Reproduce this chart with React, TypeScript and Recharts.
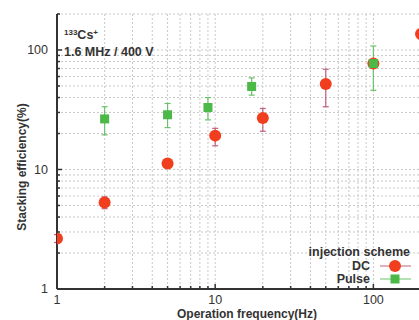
import {
  CartesianGrid,
  ErrorBar,
  Label,
  Legend,
  Scatter,
  ScatterChart,
  XAxis,
  YAxis,
} from "recharts";

// Stacking efficiency vs operation frequency, log-log scatter with error bars.

const FONT = '"Liberation Sans", Arial, sans-serif';
const INK = "#333";

const freqTicks = [1, 2, 3, 4, 5, 6, 7, 8, 9, 10, 20, 30, 40, 50, 60, 70, 80, 90, 100, 200];
const effTicks = [1, 2, 3, 4, 5, 6, 7, 8, 9, 10, 20, 30, 40, 50, 60, 70, 80, 90, 100, 200];
const majorTicks = [1, 10, 100];

const dcFreq = [1, 2, 5, 10, 20, 50, 100, 200];
const dcEff = [2.65, 5.3, 11.2, 19.2, 27, 52, 77, 136];
const dcErrLow = [0.2, 0.6, 1.0, 3.4, 6.1, 18.5, 6, 12];
const dcErrHigh = [0.2, 0.6, 1.0, 2.9, 5.4, 17, 6, 12];

const pulseFreq = [2, 5, 9, 17, 100];
const pulseEff = [26.5, 28.7, 33, 49.5, 77];
const pulseErrLow = [7, 6.3, 7, 7.6, 31];
const pulseErrHigh = [7, 7, 7, 8.9, 31];

const dcData = dcFreq.map((f, i) => ({
  freq: f,
  eff: dcEff[i],
  err: [dcErrLow[i], dcErrHigh[i]],
}));
const pulseData = pulseFreq.map((f, i) => ({
  freq: f,
  eff: pulseEff[i],
  err: [pulseErrLow[i], pulseErrHigh[i]],
}));

const RED = "#f03e1e";
const GREEN = "#4cb848";

const DcDot = (p: any) => <circle cx={p.cx} cy={p.cy} r={6} fill={RED} />;
const PulseDot = (p: any) => (
  <rect x={p.cx - 4.5} y={p.cy - 4.5} width={9} height={9} fill={GREEN} />
);

const BottomTick = ({ x, y, payload }: any) => {
  const major = majorTicks.includes(payload.value);
  return (
    <g>
      <line x1={x} x2={x} y1={y} y2={y - (major ? 5 : 3)} stroke={INK} strokeWidth={1.5} />
      {major && (
        <text x={x} y={y + 15} textAnchor="middle" fontSize={12.5} fill={INK} fontFamily={FONT}>
          {payload.value}
        </text>
      )}
    </g>
  );
};

const TopTick = ({ x, y, payload }: any) => {
  const major = majorTicks.includes(payload.value);
  return <line x1={x} x2={x} y1={y} y2={y + (major ? 5 : 3)} stroke={INK} strokeWidth={1.5} />;
};

const LeftTick = ({ x, y, payload }: any) => {
  const major = majorTicks.includes(payload.value);
  return (
    <g>
      <line x1={x} x2={x + (major ? 5 : 3)} y1={y} y2={y} stroke={INK} strokeWidth={1.5} />
      {major && (
        <text x={x - 9} y={y} dy="0.35em" textAnchor="end" fontSize={12.5} fill={INK} fontFamily={FONT}>
          {payload.value}
        </text>
      )}
    </g>
  );
};

const renderLegend = ({ payload }: any) => (
  <div style={{ fontFamily: FONT, fontWeight: "bold", fontSize: 12.5, color: INK, textAlign: "right" }}>
    <div style={{ lineHeight: "13px", paddingRight: 3 }}>injection scheme</div>
    {(payload || []).map((e: any) => (
      <div
        key={e.value}
        style={{ display: "flex", justifyContent: "flex-end", alignItems: "center", height: 13 }}
      >
        <span>{e.value}</span>
        <svg width={35} height={13} style={{ marginLeft: 8 }}>
          <line x1={2} x2={33} y1={7} y2={7} stroke={e.value === "DC" ? "#c0607a" : "#6cc06c"} />
          {e.value === "DC" ? (
            <circle cx={17} cy={7} r={6} fill={RED} />
          ) : (
            <rect x={12.5} y={2.5} width={9} height={9} fill={GREEN} />
          )}
        </svg>
      </div>
    ))}
  </div>
);

export default function App() {
  return (
    <div
      style={{
        position: "absolute",
        left: 0,
        top: 0,
        width: 419,
        height: 320,
        overflow: "hidden",
        background: "#fff",
      }}
    >
      <ScatterChart width={440} height={320} margin={{ top: 14, right: 19, bottom: 0, left: 0 }}>
        <CartesianGrid stroke="#c8c8c8" strokeDasharray="2 2" />
        <XAxis
          dataKey="freq"
          type="number"
          scale="log"
          domain={[1, 200]}
          ticks={freqTicks}
          height={31}
          tickSize={0}
          tickMargin={0}
          tick={<BottomTick />}
          interval={0}
          axisLine={{ stroke: INK, strokeWidth: 2 }}
          tickLine={false}
          allowDataOverflow
        >
          <Label
            content={({ viewBox }: any) => (
              <text
                x={viewBox.x + viewBox.width / 2 + 8}
                y={viewBox.y + 29}
                textAnchor="middle"
                fontSize={12}
                fontWeight="bold"
                fill={INK}
                fontFamily={FONT}
              >
                Operation frequency(Hz)
              </text>
            )}
          />
        </XAxis>
        <XAxis
          xAxisId="top"
          orientation="top"
          type="number"
          scale="log"
          domain={[1, 200]}
          ticks={freqTicks}
          height={0}
          tickSize={0}
          tickMargin={0}
          tick={<TopTick />}
          interval={0}
          axisLine={{ stroke: INK, strokeWidth: 2 }}
          tickLine={false}
          allowDataOverflow
        />
        <YAxis
          dataKey="eff"
          type="number"
          scale="log"
          domain={[1, 200]}
          ticks={effTicks}
          width={57}
          tickSize={0}
          tickMargin={0}
          tick={<LeftTick />}
          interval={0}
          axisLine={{ stroke: INK, strokeWidth: 2 }}
          tickLine={false}
          allowDataOverflow
        >
          <Label
            content={({ viewBox }: any) => {
              const cx = viewBox.x + 22;
              const cy = 167;
              return (
                <text
                  x={cx}
                  y={cy}
                  transform={`rotate(-90 ${cx} ${cy})`}
                  textAnchor="middle"
                  dominantBaseline="central"
                  fontSize={12}
                  fontWeight="bold"
                  fill={INK}
                  fontFamily={FONT}
                >
                  Stacking efficiency(%)
                </text>
              );
            }}
          />
        </YAxis>
        <Legend
          content={renderLegend}
          layout="vertical"
          align="center"
          verticalAlign="middle"
          wrapperStyle={{ left: 290, top: 246, width: 123, right: "auto", bottom: "auto" }}
        />
        <Scatter name="DC" data={dcData} fill={RED} shape={DcDot} isAnimationActive={false}>
          <ErrorBar dataKey="err" direction="y" width={3} stroke="#c0607a" strokeWidth={1.2} />
        </Scatter>
        <Scatter name="Pulse" data={pulseData} fill={GREEN} shape={PulseDot} isAnimationActive={false}>
          <ErrorBar dataKey="err" direction="y" width={3} stroke="#6cc06c" strokeWidth={1.2} />
        </Scatter>
      </ScatterChart>
      <div
        style={{
          position: "absolute",
          left: 64,
          top: 24,
          fontFamily: FONT,
          fontWeight: "bold",
          fontSize: 12.5,
          color: INK,
          lineHeight: "17px",
        }}
      >
        <div>
          <sup style={{ fontSize: 8, verticalAlign: "4px" }}>133</sup>Cs
          <sup style={{ fontSize: 8, verticalAlign: "4px" }}>+</sup>
        </div>
        <div>1.6 MHz / 400 V</div>
      </div>
    </div>
  );
}
